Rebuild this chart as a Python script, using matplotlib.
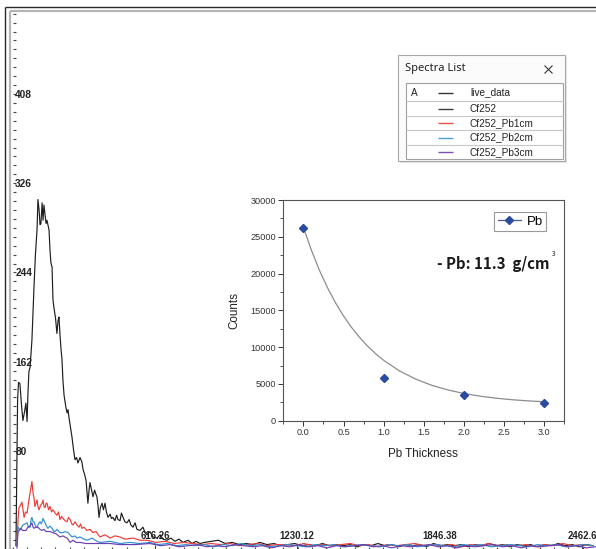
import numpy as np
import matplotlib
matplotlib.use("Agg")
import matplotlib.pyplot as plt
from matplotlib.lines import Line2D
from matplotlib.patches import Rectangle
from matplotlib.ticker import FixedLocator, MultipleLocator

# ---------------- data: main spectrum (channel, counts) ----------------
black_ch = [15, 22, 26, 32, 39, 45, 52, 58, 63, 67, 71, 76, 84, 93, 99, 106, 110, 115, 119, 123,
            128, 132, 136, 141, 145, 149, 158, 162, 166, 171, 175, 179, 186, 192, 197, 201, 205, 210, 214, 218,
            223, 231, 236, 240, 244, 249, 257, 264, 270, 277, 283, 292, 300, 305, 311, 318, 322, 326, 331, 335,
            342, 348, 355, 361, 365, 370, 374, 380, 387, 393, 400, 406, 413, 422, 428, 434, 443, 450, 456, 465,
            471, 478, 486, 495, 504, 512, 521, 530, 538, 551, 564, 573, 581, 594, 607, 625, 638, 651, 668, 685,
            702, 720, 737, 759, 776, 793, 811]
black_cnt = [-7, 127, 143, 142, 122, 108, 116, 124, 107, 134, 153, 157, 182, 231, 260, 283, 311, 301, 288, 289,
             308, 292, 306, 297, 289, 292, 283, 265, 253, 249, 219, 212, 202, 188, 200, 203, 188, 173, 164, 145,
             131, 120, 115, 118, 111, 104, 93, 81, 72, 74, 69, 74, 70, 63, 59, 53, 42, 32, 44, 51,
             44, 38, 44, 40, 38, 29, 19, 28, 32, 26, 32, 24, 19, 22, 18, 19, 16, 21, 17, 16,
             23, 19, 15, 14, 17, 12, 10, 14, 8, 7, 10, 5, 3, 6, 1, 0, 3, -1, -2, 0,
             -3, -1, -4, -2, -5, -3, -5]
black_tail_ch = list(range(830, 2511, 30))
black_tail_cnt = [-4, -3, -2, -5, -4, -6, -5, -6, -4, -6, -5, -7, -6, -5, -7, -6, -7, -5, -7, -6,
                  -7, -6, -8, -6, -7, -5, -7, -6, -8, -6, -7, -6, -8, -5, -7, -6, -7, -6, -8, -6,
                  -7, -5, -7, -6, -8, -6, -7, -6, -8, -6, -7, -5, -7, -6, -8, -6, -7]

red_ch = [19, 24, 28, 32, 41, 50, 56, 63, 71, 78, 84, 89, 93, 97, 102, 106, 110, 115, 121, 128,
          132, 136, 141, 145, 149, 156, 162, 169, 175, 184, 192, 199, 205, 212, 218, 227, 236, 242, 249, 257,
          262, 270, 279, 288, 294, 300, 309, 322, 335, 348, 361, 378, 400, 422, 443, 465, 486, 521, 551, 581]
red_cnt = [-7, 17, 28, 29, 33, 19, 24, 23, 35, 44, 52, 41, 37, 29, 32, 35, 29, 26, 30, 32,
           35, 29, 28, 32, 32, 26, 29, 24, 26, 23, 21, 24, 17, 20, 18, 16, 15, 19, 17, 13,
           12, 15, 12, 10, 13, 9, 10, 7, 8, 5, 6, 1, 3, 0, 2, 1, -1, 0, -2, -2]
red_tail_ch = list(range(620, 2501, 40))
red_tail_cnt = [-4, -3, -5, -4, -5, -6, -5, -6, -5, -7, -6, -5, -7, -6, -6, -7, -5, -7, -6, -7,
                -6, -5, -7, -6, -8, -6, -7, -6, -5, -7, -6, -7, -6, -8, -6, -7, -5, -7, -6, -7,
                -6, -8, -6, -7, -5, -7, -6, -7]

blue_ch = [19, 24, 30, 37, 45, 54, 63, 69, 76, 80, 84, 89, 93, 99, 106, 112, 119, 125, 132, 136,
           141, 147, 153, 162, 171, 179, 184, 192, 197, 205, 218, 227, 240, 249, 257, 270, 279, 292, 309, 322,
           344, 365, 378, 422, 465, 508, 551, 594]
blue_cnt = [-7, 10, 8, 9, 12, 13, 14, 10, 10, 17, 19, 15, 15, 11, 10, 13, 15, 13, 18, 16,
            14, 11, 9, 11, 9, 6, 6, 8, 7, 5, 5, 6, 5, 3, 1, 2, 0, 1, -1, -2,
            0, -3, -4, -3, -5, -4, -5, -4]
blue_tail_ch = list(range(630, 2511, 40))
blue_tail_cnt = [-6, -5, -7, -6, -7, -6, -8, -6, -7, -5, -7, -6, -8, -7, -6, -7, -8, -6, -7, -6,
                 -8, -7, -6, -7, -8, -6, -7, -6, -8, -7, -6, -7, -8, -6, -7, -6, -8, -7, -6, -7,
                 -8, -6, -7, -6, -8, -7, -6, -7]

purple_ch = [19, 24, 30, 37, 43, 50, 58, 67, 76, 84, 89, 93, 102, 110, 119, 128, 136, 145, 153, 162,
             175, 188, 205, 218, 236, 249, 262, 275, 292, 318, 348, 378, 422, 465, 530, 594]
purple_cnt = [-9, 6, 7, 9, 7, 7, 7, 10, 11, 14, 10, 9, 10, 10, 8, 7, 8, 6, 6, 6,
              5, 4, 1, 2, 0, -4, -2, -4, -4, -5, -5, -5, -5, -6, -6, -5]
purple_tail_ch = list(range(640, 2521, 40))
purple_tail_cnt = [-7, -6, -8, -7, -6, -8, -7, -8, -6, -7, -8, -7, -9, -7, -8, -6, -8, -7, -9, -7,
                   -8, -7, -6, -8, -7, -9, -7, -8, -7, -6, -8, -7, -9, -7, -8, -7, -6, -8, -7, -9,
                   -7, -8, -7, -6, -8, -7, -9, -8]

ytick_vals = [80, 162, 244, 326, 408]
xtick_vals = [616.26, 1230.12, 1846.38, 2462.6]
xtick_labels = ["616.26", "1230.12", "1846.38", "2462.6"]

spectra_names = ["live_data", "Cf252", "Cf252_Pb1cm", "Cf252_Pb2cm", "Cf252_Pb3cm"]
spectra_colors = ["#333333", "#3c3c3c", "#e8504a", "#4aa3d8", "#7a4fb0"]

# ---------------- data: inset ----------------
pb_thickness = [0.0, 1.0, 2.0, 3.0]
pb_counts = [26250, 5800, 3450, 2400]
fit_x = [0.0, 0.1, 0.2, 0.3, 0.4, 0.5, 0.6, 0.7, 0.8, 0.9, 1.0, 1.2, 1.4, 1.6, 1.8, 2.0, 2.2, 2.4, 2.6, 2.8, 3.0]
fit_y = [26300, 23170, 20450, 18090, 16030, 14240, 12680, 11320, 10140, 9100, 8210, 6750, 5650, 4810,
         4180, 3700, 3335, 3060, 2850, 2694, 2575]

# ---------------- figure ----------------
W, H = 596, 549
fig = plt.figure(figsize=(W / 100, H / 100), dpi=100)
fig.patch.set_facecolor("white")


def fx(px):
    return px / W


def fy(py):
    return 1 - py / H


def fline(x0, y0, x1, y1, color, lw, z=20):
    fig.add_artist(Line2D([fx(x0), fx(x1)], [fy(y0), fy(y1)], color=color, lw=lw,
                          transform=fig.transFigure, zorder=z, solid_capstyle="butt"))


# outer window frame
fline(5, 7, 596, 7, "#2a2a2a", 1.0)
fline(5, 7, 5, 549, "#2a2a2a", 1.0)
fline(9.5, 11, 596, 11, "#b5b5b5", 1.6)
fline(9.5, 11, 9.5, 549, "#b5b5b5", 1.6)

# main spectrum axes
ax = fig.add_axes([fx(12.5), 0, 1 - fx(12.5), fy(13)])
ax.set_facecolor("none")
for s in ax.spines.values():
    s.set_visible(False)
ax.set_xlim(0, 2522.7)
ax.set_ylim(-10.04, 482.4)

lw = 0.85
ax.plot(black_ch + black_tail_ch, black_cnt + black_tail_cnt, color="#1e1e1e", lw=lw, zorder=3)
ax.plot(red_ch + red_tail_ch, red_cnt + red_tail_cnt, color="#ee3b36", lw=lw, zorder=4)
ax.plot(blue_ch + blue_tail_ch, blue_cnt + blue_tail_cnt, color="#2f8fd0", lw=lw, zorder=5)
ax.plot(purple_ch + purple_tail_ch, purple_cnt + purple_tail_cnt, color="#6a3fb0", lw=lw, zorder=6)

ax.yaxis.set_major_locator(FixedLocator(ytick_vals))
ax.yaxis.set_minor_locator(FixedLocator(np.arange(80 - 8.2 * 11, 485, 8.2)))
ax.set_yticklabels([str(v) for v in ytick_vals], ha="left", color="#222222",
                   family="Liberation Sans", weight="bold", size=7.3)
ax.tick_params(axis="y", which="both", direction="in", length=2.3, width=0.8, color="#444444", pad=-2.0)

ax.xaxis.set_major_locator(FixedLocator(xtick_vals))
ax.xaxis.set_minor_locator(MultipleLocator(61.63))
ax.set_xticklabels(xtick_labels, va="center", color="#222222",
                   family="Liberation Sans", weight="bold", size=6.9)
ax.tick_params(axis="x", which="major", direction="in", length=3.0, width=0.8, color="#444444", pad=-9.4)
ax.tick_params(axis="x", which="minor", direction="in", length=1.4, width=0.8, color="#444444")

# inset chart
ins = fig.add_axes([fx(283.3), fy(420.7), (564.3 - 283.3) / W, (420.7 - 200) / H], zorder=5)
ins.set_facecolor("white")
ins.plot(fit_x, fit_y, color="#8c8c8c", lw=0.9, zorder=2)
ins.plot(pb_thickness, pb_counts, linestyle="none", marker="D", ms=4.3, color="#2b4ba0", zorder=3)
ins.set_xlim(-0.25, 3.25)
ins.set_ylim(0, 30000)
ins.xaxis.set_major_locator(MultipleLocator(0.5))
ins.xaxis.set_minor_locator(MultipleLocator(0.25))
ins.yaxis.set_major_locator(MultipleLocator(5000))
ins.yaxis.set_minor_locator(MultipleLocator(2500))
ins.tick_params(which="major", direction="out", length=3.6, width=0.7, colors="#333333", labelsize=6.6, pad=1.8)
ins.tick_params(which="minor", direction="out", length=2.0, width=0.6, colors="#333333")
for lab in ins.get_xticklabels() + ins.get_yticklabels():
    lab.set_family("Liberation Sans")
for s in ins.spines.values():
    s.set_color("#555555")
    s.set_linewidth(0.8)
ins.set_xlabel("Pb Thickness", family="Liberation Sans", size=8.4, color="#222222")
ins.set_ylabel("Counts", family="Liberation Sans", size=8.4, color="#222222")
ins.xaxis.set_label_coords(0.497, -0.124)
ins.yaxis.set_label_coords(-0.154, 0.5)

proxy = Line2D([], [], color="#4a5a8a", lw=0.9, marker="D", ms=4.3, mfc="#2b4ba0", mec="#2b4ba0")
leg = ins.legend([proxy], ["Pb"], loc="upper right", bbox_to_anchor=(0.935, 0.945), borderaxespad=0,
                 prop=dict(family="Liberation Sans", size=9.5), handlelength=1.8, handletextpad=0.4,
                 borderpad=0.25, fancybox=False, framealpha=1, edgecolor="#999999")
leg.get_frame().set_linewidth(0.8)

ins.text(0.547, 0.71, "- Pb: 11.3  g/cm", transform=ins.transAxes, ha="left", va="center",
         family=["Noto Sans CJK KR", "DejaVu Sans"], weight="bold", size=10.8, color="#1a1a1a")
ins.text(0.955, 0.755, "3", transform=ins.transAxes, ha="left", va="center",
         family=["Noto Sans CJK KR", "DejaVu Sans"], size=4.8, color="#1a1a1a")

# Spectra List window
def frect(x0, y0, x1, y1, fc, ec, lw=0.8, z=30):
    fig.add_artist(Rectangle((fx(x0), fy(y1)), fx(x1) - fx(x0), fy(y0) - fy(y1), facecolor=fc,
                             edgecolor=ec, lw=lw, transform=fig.transFigure, zorder=z))


frect(400, 57, 567, 163, "#e6e6e6", "none", 0, z=29)
frect(398, 55, 565, 161, "#fbfbfb", "#a8a8a8", 0.8)
fig.text(fx(405), fy(69), "Spectra List", ha="left", va="center", family="Noto Sans", size=8,
         color="#222222", zorder=31)
fline(544.5, 65.5, 552.5, 73.5, "#333333", 0.8, z=31)
fline(552.5, 65.5, 544.5, 73.5, "#333333", 0.8, z=31)
frect(406, 83, 563, 159, "white", "#a0a0a0", 0.8, z=31)
row_y = [92.5, 108.5, 123, 137.5, 152]
for sep in [100.5, 115.5, 129.5, 144.5]:
    fline(406, sep, 563, sep, "#c8c8c8", 0.8, z=32)
fig.text(fx(411), fy(row_y[0]), "A", ha="left", va="center", family="Liberation Sans", size=7.2,
         color="#222222", zorder=33)
for yy, name, col in zip(row_y, spectra_names, spectra_colors):
    fline(438, yy, 453, yy, col, 1.0, z=33)
    fig.text(fx(470), fy(yy), name, ha="left", va="center", family="Liberation Sans", size=7.2,
             color="#222222", zorder=33)

fig.savefig("out.png", dpi=100, facecolor="white")
